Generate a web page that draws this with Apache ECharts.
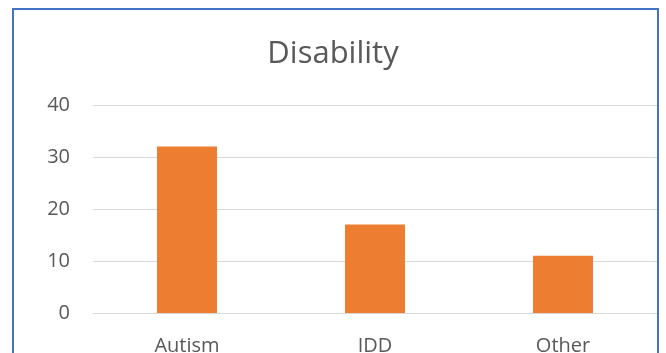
<!DOCTYPE html>
<html>
<head>
<meta charset="utf-8">
<script src="https://cdn.jsdelivr.net/npm/echarts@6/dist/echarts.min.js"></script>
<style>
  html, body { margin: 0; padding: 0; background: #fff; overflow: hidden; }
  #chart { position: absolute; left: 0; top: 0; width: 666px; height: 353px; }
  #frame { position: absolute; left: 12px; top: 8px; width: 647px; height: 360px;
           border: 2px solid #4472C4; box-sizing: border-box; pointer-events: none; }
</style>
</head>
<body>
<div id="chart"></div>
<div id="frame"></div>
<script>
const categories = ['Autism', 'IDD', 'Other'];
const counts = [32, 17, 11];
const yTicks = { min: 0, max: 40, interval: 10 };

const chart = echarts.init(document.getElementById('chart'), null, { renderer: 'canvas' });
chart.setOption({
  animation: false,
  title: {
    text: 'Disability',
    left: 'center', top: 34,
    textStyle: { fontFamily: 'Open Sans', fontSize: 31, fontWeight: 'normal', color: '#595959' }
  },
  grid: { left: 93, right: 9, top: 105, bottom: 40, containLabel: false, outerBoundsMode: 'none' },
  xAxis: {
    type: 'category',
    data: categories,
    axisLine: { show: true, lineStyle: { color: '#D9D9D9', width: 1 } },
    axisTick: { show: false },
    axisLabel: { fontFamily: 'Open Sans', fontSize: 20, color: '#595959', margin: 23 }
  },
  yAxis: {
    type: 'value',
    min: yTicks.min, max: yTicks.max, interval: yTicks.interval,
    axisLine: { show: false },
    axisTick: { show: false },
    splitLine: { lineStyle: { color: '#D9D9D9', width: 1 } },
    axisLabel: { fontFamily: 'Open Sans', fontSize: 20, color: '#595959', margin: 23 }
  },
  series: [{
    type: 'bar',
    data: counts,
    barWidth: 60,
    itemStyle: { color: '#ED7D31' }
  }]
});
</script>
</body>
</html>
